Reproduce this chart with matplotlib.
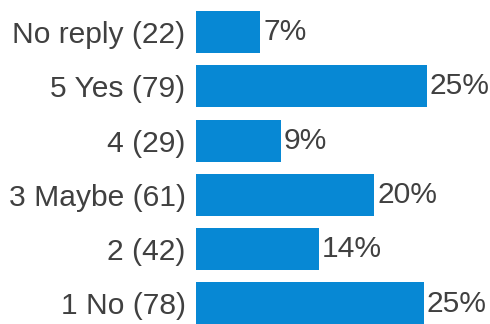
import matplotlib
matplotlib.use("Agg")
import matplotlib.pyplot as plt

categories = ["No reply", "5 Yes", "4", "3 Maybe", "2", "1 No"]
counts = [22, 79, 29, 61, 42, 78]

total = sum(counts)
shares = [c / total * 100 for c in counts]
labels = [f"{cat} ({n})" for cat, n in zip(categories, counts)]

plt.rcParams["font.family"] = ["Liberation Sans", "DejaVu Sans"]

W, H = 490, 324
fig = plt.figure(figsize=(W / 100, H / 100), dpi=100)
ax = fig.add_axes([196 / W, 0, 1 - 196 / W, 1])

bar_color = "#0788D4"
text_color = "#404040"
fs = 21.6

ypos = list(range(len(categories)))
ax.barh(ypos, shares, height=0.775, color=bar_color, edgecolor="none")

for y, s in zip(ypos, shares):
    ax.text(s + 0.3, y, f"{round(s)}%", va="center", ha="left",
            fontsize=fs, color=text_color)

ax.set_yticks(ypos)
ax.set_yticklabels(labels, fontsize=fs, color=text_color)
ax.tick_params(axis="y", length=0, pad=7.5)
ax.set_xticks([])
ax.set_xlim(0, 294 / 9.09)
ax.set_ylim(5 + 20.5 / 54.3, -32 / 54.3)
for sp in ax.spines.values():
    sp.set_visible(False)

fig.savefig("out.png", dpi=100)
